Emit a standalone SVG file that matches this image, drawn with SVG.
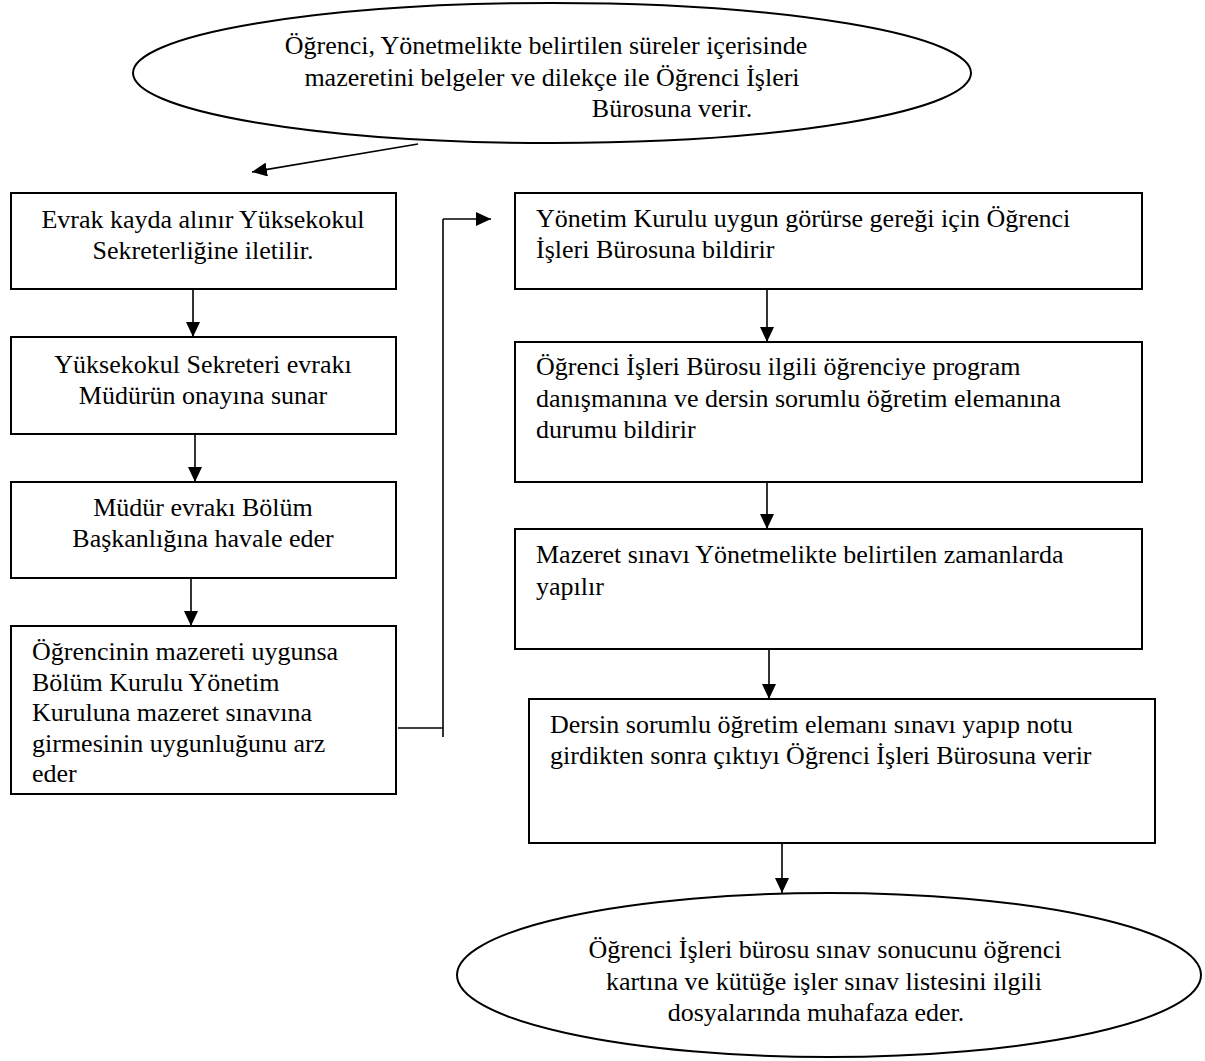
<svg xmlns="http://www.w3.org/2000/svg" width="1205" height="1061" viewBox="0 0 1205 1061">
<style>
  .shape { fill: #ffffff; stroke: #000000; stroke-width: 2; }
  .conn { fill: none; stroke: #000000; stroke-width: 1.6; }
  .t { font-family: 'Liberation Serif', 'DejaVu Serif', serif; font-size: 26px; fill: #000000; }
  .c { text-anchor: middle; }
</style>
<defs>
  <marker id="ah" markerUnits="userSpaceOnUse" markerWidth="16" markerHeight="14" refX="15" refY="7" orient="auto">
    <path d="M0,0 L15,7 L0,14 Z" fill="#000000"/>
  </marker>
</defs>
<rect width="1205" height="1061" fill="#ffffff"/>

<g id="connectors">
  <line class="conn" x1="418" y1="144" x2="252" y2="172" marker-end="url(#ah)"/>
  <line class="conn" x1="193" y1="289" x2="193" y2="337" marker-end="url(#ah)"/>
  <line class="conn" x1="195" y1="434" x2="195" y2="482" marker-end="url(#ah)"/>
  <line class="conn" x1="191" y1="578" x2="191" y2="626" marker-end="url(#ah)"/>
  <path class="conn" d="M398,728 H443 M443,737 V219"/>
  <line class="conn" x1="443" y1="219" x2="491" y2="219" marker-end="url(#ah)"/>
  <line class="conn" x1="767" y1="289" x2="767" y2="342" marker-end="url(#ah)"/>
  <line class="conn" x1="767" y1="482" x2="767" y2="529" marker-end="url(#ah)"/>
  <line class="conn" x1="769" y1="649" x2="769" y2="699" marker-end="url(#ah)"/>
  <line class="conn" x1="782" y1="843" x2="782" y2="893" marker-end="url(#ah)"/>
</g>

<g id="start" class="t">
  <ellipse class="shape" cx="552" cy="73" rx="419" ry="70"/>
  <text class="c" font-family="Liberation Serif" x="546" y="54">Öğrenci, Yönetmelikte belirtilen süreler içerisinde</text>
  <text class="c" font-family="Liberation Serif" x="552" y="86">mazeretini belgeler ve dilekçe ile Öğrenci İşleri</text>
  <text class="c" font-family="Liberation Serif" x="672" y="117">Bürosuna verir.</text>
</g>

<g id="n1" class="t">
  <rect class="shape" x="11" y="193" width="385" height="96"/>
  <text class="c" font-family="Liberation Serif" x="203" y="228">Evrak kayda alınır Yüksekokul</text>
  <text class="c" font-family="Liberation Serif" x="203" y="259">Sekreterliğine iletilir.</text>
</g>

<g id="n2" class="t">
  <rect class="shape" x="11" y="337" width="385" height="97"/>
  <text class="c" font-family="Liberation Serif" x="203" y="373">Yüksekokul Sekreteri evrakı</text>
  <text class="c" font-family="Liberation Serif" x="203" y="404">Müdürün onayına sunar</text>
</g>

<g id="n3" class="t">
  <rect class="shape" x="11" y="482" width="385" height="96"/>
  <text class="c" font-family="Liberation Serif" x="203" y="516">Müdür evrakı Bölüm</text>
  <text class="c" font-family="Liberation Serif" x="203" y="547">Başkanlığına havale eder</text>
</g>

<g id="n4" class="t">
  <rect class="shape" x="11" y="626" width="385" height="168"/>
  <text font-family="Liberation Serif" x="32" y="660">Öğrencinin mazereti uygunsa</text>
  <text font-family="Liberation Serif" x="32" y="691">Bölüm Kurulu Yönetim</text>
  <text font-family="Liberation Serif" x="32" y="721">Kuruluna mazeret sınavına</text>
  <text font-family="Liberation Serif" x="32" y="752">girmesinin uygunluğunu arz</text>
  <text font-family="Liberation Serif" x="32" y="782">eder</text>
</g>

<g id="n5" class="t">
  <rect class="shape" x="515" y="193" width="627" height="96"/>
  <text font-family="Liberation Serif" x="536" y="227">Yönetim Kurulu uygun görürse gereği için Öğrenci</text>
  <text font-family="Liberation Serif" x="536" y="258">İşleri Bürosuna bildirir</text>
</g>

<g id="n6" class="t">
  <rect class="shape" x="515" y="342" width="627" height="140"/>
  <text font-family="Liberation Serif" x="536" y="375">Öğrenci İşleri Bürosu ilgili öğrenciye program</text>
  <text font-family="Liberation Serif" x="536" y="407">danışmanına ve dersin sorumlu öğretim elemanına</text>
  <text font-family="Liberation Serif" x="536" y="438">durumu bildirir</text>
</g>

<g id="n7" class="t">
  <rect class="shape" x="515" y="529" width="627" height="120"/>
  <text font-family="Liberation Serif" x="536" y="563">Mazeret sınavı Yönetmelikte belirtilen zamanlarda</text>
  <text font-family="Liberation Serif" x="536" y="595">yapılır</text>
</g>

<g id="n8" class="t">
  <rect class="shape" x="529" y="699" width="626" height="144"/>
  <text font-family="Liberation Serif" x="550" y="733">Dersin sorumlu öğretim elemanı sınavı yapıp notu</text>
  <text font-family="Liberation Serif" x="550" y="764">girdikten sonra çıktıyı Öğrenci İşleri Bürosuna verir</text>
</g>

<g id="end" class="t">
  <ellipse class="shape" cx="829" cy="975" rx="372" ry="82"/>
  <text class="c" font-family="Liberation Serif" x="825" y="958">Öğrenci İşleri bürosu sınav sonucunu öğrenci</text>
  <text class="c" font-family="Liberation Serif" x="824" y="990">kartına ve kütüğe işler sınav listesini ilgili</text>
  <text class="c" font-family="Liberation Serif" x="816" y="1021">dosyalarında muhafaza eder.</text>
</g>
</svg>
